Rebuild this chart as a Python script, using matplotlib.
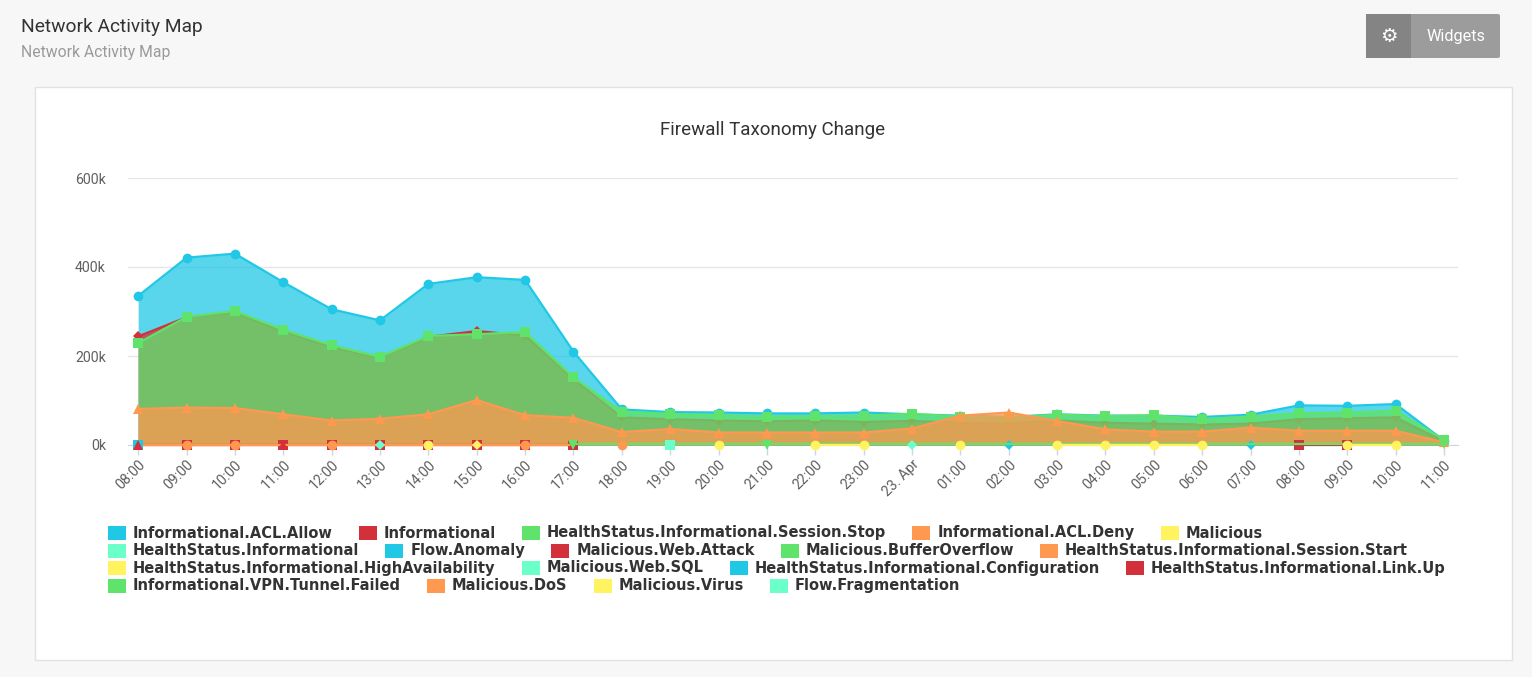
import numpy as np
import matplotlib
matplotlib.use('Agg')
import matplotlib.pyplot as plt
from matplotlib.patches import Rectangle, FancyBboxPatch

# eixo x (horas) e series (valores em milhares)
hours = ['08:00', '09:00', '10:00', '11:00', '12:00', '13:00', '14:00', '15:00',
         '16:00', '17:00', '18:00', '19:00', '20:00', '21:00', '22:00', '23:00',
         '23. Apr', '01:00', '02:00', '03:00', '04:00', '05:00', '06:00', '07:00',
         '08:00', '09:00', '10:00', '11:00']

acl_allow = [335, 421, 430, 366, 305, 280, 362, 377, 371, 210, 80, 74, 73, 71,
             71, 73, 69, 66, 63, 69, 66, 66, 63, 68, 89, 88, 92, 10]
informational = [244, 287, 298, 255, 220, 195, 243, 256, 246, 148, 62, 58, 55, 53,
                 55, 52, 54, 50, 48, 55, 50, 48, 46, 48, 58, 60, 62, 8]
session_stop = [229, 288, 301, 259, 224, 198, 245, 249, 254, 152, 75, 70, 67, 64,
                65, 66, 70, 64, 62, 68, 65, 67, 58, 64, 71, 73, 77, 12]
acl_deny = [81, 84, 83, 69, 55, 59, 69, 101, 67, 61, 29, 36, 28, 28,
            28, 28, 37, 66, 73, 54, 35, 30, 30, 39, 32, 32, 32, 6]

N = None
malicious = [N, N, N, 1, N, N, N, N, N, N, N, N, N, N, N, N, N, N, N, N, N, N, N, N, N, N, N, N]
hs_informational = [N] * 28
flow_anomaly = [N, N, N, N, N, N, N, N, N, N, N, N, N, N, N, N, N, N, 1, N, N, N, N, 1, N, N, N, N]
web_attack = [1, 1, 1, 1, 1, 1, 1, 1, 1, 1, N, N, N, N, N, N, N, N, N, N, N, N, N, N, 1, 1, N, N]
buffer_overflow = [N, N, N, N, N, N, N, N, N, 2, 2, 2, 2, 2, 2, 2, 2, 2, 2, 2, 2, 2, 2, 2, 2, 2, 2, 2]
session_start = [1, 1, 1, 1, 1, 1, 1, 1, 1, 1, N, N, N, N, N, N, N, N, N, N, N, N, N, N, N, N, N, N]
high_avail = [N, N, N, N, N, N, 1, N, N, N, N, N, 1, N, 1, 1, N, 1, N, 1, 1, 1, 1, N, N, 1, 1, N]
web_sql = [N, N, N, N, N, 1, N, N, N, N, N, N, N, N, N, N, 1, N, N, N, N, N, N, N, N, N, N, N]
configuration = [1, N, N, N, N, N, N, N, N, N, N, N, N, N, N, N, N, N, N, N, N, N, N, N, N, N, N, N]
link_up = [1, N, N, 1, N, N, N, N, N, 1, N, N, N, N, N, N, N, N, N, N, N, N, N, N, N, N, N, N]
vpn_failed = [N, N, N, N, N, N, N, N, N, 1, N, N, N, 1, N, N, N, N, N, N, N, N, N, N, N, N, N, 3]
dos = [N, 1, 1, N, 1, N, N, N, 1, N, 1, N, N, N, N, N, N, N, N, N, N, N, N, N, N, N, N, N]
virus = [N, N, N, N, N, N, N, 1, N, N, N, N, N, N, N, N, N, N, N, N, N, N, N, N, N, N, N, N]
fragmentation = [N, N, N, N, N, N, N, N, N, N, N, 1, N, N, N, N, N, N, N, N, N, N, N, N, N, N, N, N]

series = [
    ('Informational.ACL.Allow', acl_allow),
    ('Informational', informational),
    ('HealthStatus.Informational.Session.Stop', session_stop),
    ('Informational.ACL.Deny', acl_deny),
    ('Malicious', malicious),
    ('HealthStatus.Informational', hs_informational),
    ('Flow.Anomaly', flow_anomaly),
    ('Malicious.Web.Attack', web_attack),
    ('Malicious.BufferOverflow', buffer_overflow),
    ('HealthStatus.Informational.Session.Start', session_start),
    ('HealthStatus.Informational.HighAvailability', high_avail),
    ('Malicious.Web.SQL', web_sql),
    ('HealthStatus.Informational.Configuration', configuration),
    ('HealthStatus.Informational.Link.Up', link_up),
    ('Informational.VPN.Tunnel.Failed', vpn_failed),
    ('Malicious.DoS', dos),
    ('Malicious.Virus', virus),
    ('Flow.Fragmentation', fragmentation),
]

palette = ['#21c8e6', '#d2303a', '#5fe36a', '#ff9950', '#fff35f', '#6bffc9']
# simbolos: circle, diamond, square, triangle, triangle-down
symbols = [('o', 7.0), ('D', 5.0), ('s', 6.6), ('^', 7.2), ('v', 7.2)]
sem_marcador = {'Malicious.BufferOverflow', 'HealthStatus.Informational.Session.Start'}

W, H = 1532, 677
fig = plt.figure(figsize=(W / 100, H / 100), dpi=100)
fig.patch.set_facecolor('#f7f7f7')


def fx(px):
    return px / W


def fy(py):
    return 1 - py / H


# cabecalho da pagina
fig.text(fx(21), fy(27), 'Network Activity Map', fontsize=13.8, color='#333333',
         family='Roboto', va='center', ha='left')
fig.text(fx(21), fy(53), 'Network Activity Map', fontsize=11.3, color='#9a9a9a',
         family='Roboto', va='center', ha='left')

# botao Widgets
fig.add_artist(FancyBboxPatch((fx(1366), fy(58)), fx(134), 44 / H,
                              boxstyle='round,pad=0,rounding_size=0.002',
                              transform=fig.transFigure, facecolor='#9d9c9d',
                              edgecolor='none', zorder=1))
fig.add_artist(Rectangle((fx(1366), fy(58)), fx(45), 44 / H, transform=fig.transFigure,
                         facecolor='#858485', edgecolor='none', zorder=1.1))
fig.text(fx(1388.5), fy(36), '\u2699', fontsize=14, color='white', ha='center',
         va='center', family='DejaVu Sans', zorder=2)
fig.text(fx(1456), fy(36), 'Widgets', fontsize=11.7, color='white', ha='center',
         va='center', family='Roboto', zorder=2)

# cartao branco
fig.add_artist(Rectangle((fx(35), fy(660)), fx(1477), 573 / H, transform=fig.transFigure,
                         facecolor='white', edgecolor='#e2e2e2', lw=1, zorder=-1))

fig.text(fx(773), fy(130), 'Firewall Taxonomy Change', fontsize=13.5, color='#333333',
         family='Roboto', ha='center', va='center')

ax = fig.add_axes([fx(128), fy(445), fx(1330), 267 / H])
ax.set_facecolor('none')
x = np.arange(len(hours))

for i, (nome, vals) in enumerate(series):
    cor = palette[i % 6]
    mk, ms = symbols[i % 5]
    v = np.array([np.nan if a is None else a for a in vals], dtype=float)
    z = 2 + i * 0.1
    ax.fill_between(x, 0, v, color=cor, alpha=0.75, lw=0, zorder=z)
    ax.plot(x, v, color=cor, lw=1.6, zorder=z + 0.01, clip_on=False)
    if nome not in sem_marcador:
        ax.plot(x, v, ls='none', marker=mk, ms=ms, color=cor, mec=cor, mew=0,
                zorder=z + 0.02, clip_on=False)

ax.set_xlim(-0.21, len(hours) - 1 + 0.29)
ax.set_ylim(0, 600)
ax.set_yticks([0, 200, 400, 600])
ax.set_yticklabels(['0k', '200k', '400k', '600k'])
ax.set_xticks(x)
ax.set_xticklabels(hours, rotation=45, ha='right', rotation_mode='anchor')
for lab in ax.get_xticklabels() + ax.get_yticklabels():
    lab.set_family('Roboto')
    lab.set_color('#606060')
    lab.set_fontsize(10.2)
ax.tick_params(axis='y', length=0, pad=16)
ax.tick_params(axis='x', length=7, color='#ccd6eb', width=1, pad=2)
ax.yaxis.grid(True, color='#e6e6e6', lw=1)
ax.set_axisbelow(True)
for s in ['top', 'right', 'left']:
    ax.spines[s].set_visible(False)
ax.spines['bottom'].set_color('#ccd6eb')
ax.spines['bottom'].set_zorder(1.5)

# legenda horizontal (layout em fluxo)
fonte_leg = ['Liberation Sans Narrow', 'DejaVu Sans']
renderer = fig.canvas.get_renderer()
teste = fig.text(0, 0, 'Informational.ACL.Allow', fontsize=10, weight='bold',
                 family=fonte_leg)
larg = teste.get_window_extent(renderer).width
teste.remove()
fs = 10 * 199 / larg

cx, cy = 108, 533
for i, (nome, vals) in enumerate(series):
    t = fig.text(0, 0, nome, fontsize=fs, weight='bold', family=fonte_leg)
    w = t.get_window_extent(renderer).width
    if cx + 25 + w > 1470:
        cx = 108
        cy += 17.5
    fig.add_artist(Rectangle((fx(cx), fy(cy + 7)), fx(18), 14 / H,
                             transform=fig.transFigure, facecolor=palette[i % 6],
                             edgecolor='none'))
    t.set_position((fx(cx + 25), fy(cy)))
    t.set_va('center')
    t.set_color('#333333')
    cx += 25 + w + 26

fig.savefig('out.png', dpi=100, facecolor=fig.get_facecolor())
